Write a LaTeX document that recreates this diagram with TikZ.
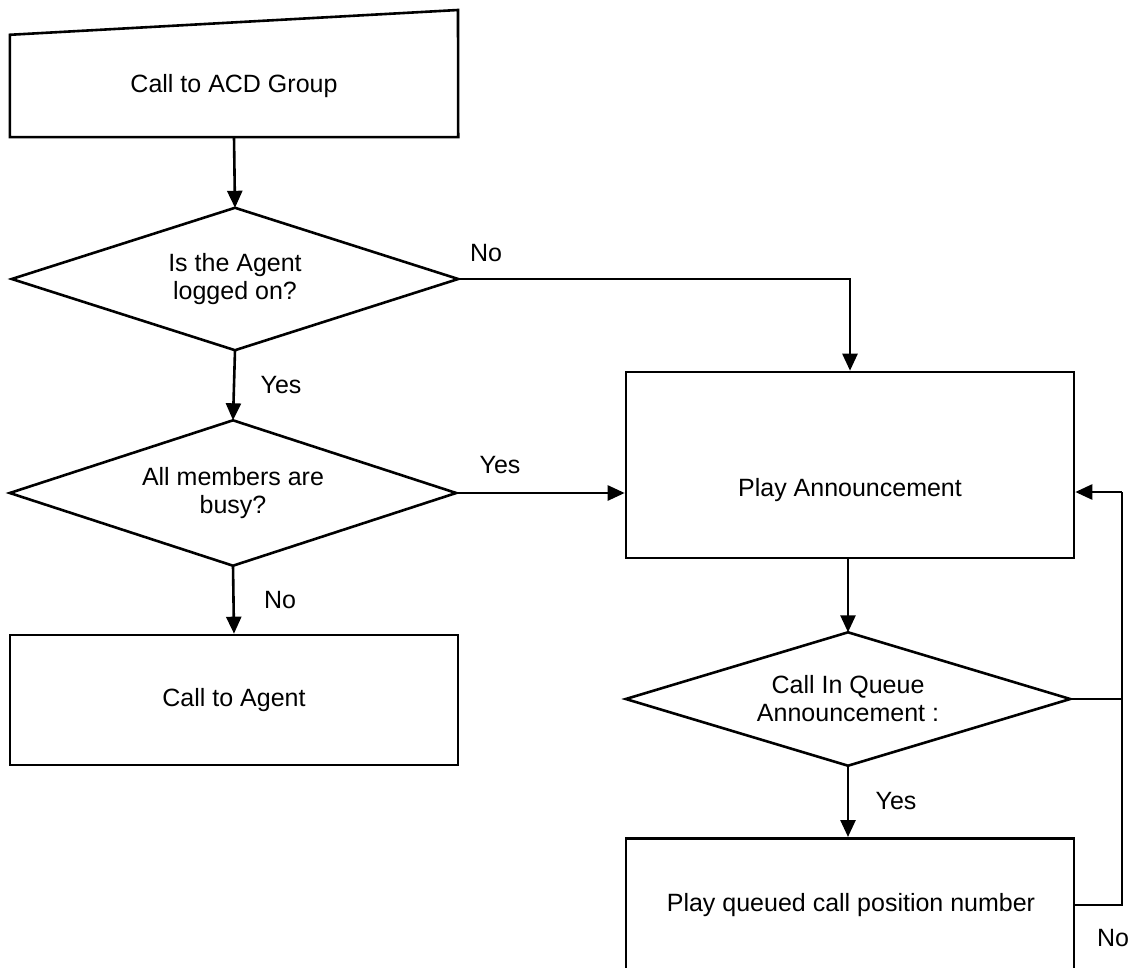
\documentclass[tikz,border=0pt]{standalone}
\usepackage{fontspec}
\setmainfont{Liberation Sans}
\usetikzlibrary{arrows.meta}
\begin{document}
\begin{tikzpicture}[x=1pt,y=-1pt,
  every node/.style={font=\fontsize{25}{28}\selectfont},
  ln/.style={line width=2.6pt},
  arr/.style={ln,-{Triangle[length=17pt,width=15pt]}},
  boxn/.style={draw,ln,rectangle,inner sep=0pt},
  decn/.style={rectangle,inner sep=0pt,align=center},
  lbl/.style={inner sep=0pt}]
\useasboundingbox (0,0) rectangle (1137,968);
% top manual input
\node[rectangle,inner sep=0pt,minimum width=448pt,minimum height=102pt] (start) at (234,86) {Call to ACD Group};
\draw[ln,line join=miter] (start.south west) -- (start.south east) -- (458,10) -- (start.north west) -- cycle;
% decisions
\node[decn,minimum width=446pt,minimum height=142pt] (d1) at (235,279) {Is the Agent\\logged on?};
\draw[ln] (d1.west) -- (d1.north) -- (d1.east) -- (d1.south) -- cycle;
\node[decn,minimum width=446pt,minimum height=145pt] (d2) at (233,493) {All members are\\busy?};
\draw[ln] (d2.west) -- (d2.north) -- (d2.east) -- (d2.south) -- cycle;
\node[boxn,minimum width=448pt,minimum height=130pt] (agent) at (234,700) {Call to Agent};
\node[boxn,minimum width=448pt,minimum height=186pt] (play) at (850,465) {};
\node[lbl] (playt) at (850,490) {Play Announcement};
\node[decn,minimum width=444pt,minimum height=133pt] (d3) at (848,699) {Call In Queue\\Announcement :};
\draw[ln] (d3.west) -- (d3.north) -- (d3.east) -- (d3.south) -- cycle;
\node[boxn,minimum width=448pt,minimum height=160pt,anchor=north] (pos) at (850,837) {};
\node[lbl] (post) at (851,905) {Play queued call position number};
\coordinate (c1) at (850,279);
\coordinate (r1) at (1122,492);
\coordinate (r2) at (1122,699);
\coordinate (r3) at (1122,905);
% connectors
\draw[arr] (start.south) -- (d1.north);
\draw[arr] (d1.south) -- (d2.north);
\draw[arr] (d2.south) -- (agent.north);
\draw[arr] (d1.east) -- (c1) -- (play.north);
\draw[arr] (d2.east) -- (d2.east -| play.west);
\draw[arr] (play.south -| d3.north) -- (d3.north);
\draw[arr] (d3.south) -- (d3.south |- pos.north);
\draw[ln] (d3.east) -- (r2);
\draw[ln] (r3 -| pos.east) -- (r3) -- (r1);
\draw[arr] (r1) -- (r1 -| play.east);
% labels
\node[lbl] (l1) at (486,253) {No};
\node[lbl] (l2) at (281,385) {Yes};
\node[lbl] (l3) at (500,465) {Yes};
\node[lbl] (l4) at (280,600) {No};
\node[lbl] (l5) at (896,801) {Yes};
\node[lbl] (l6) at (1113,938) {No};
\end{tikzpicture}
\end{document}
